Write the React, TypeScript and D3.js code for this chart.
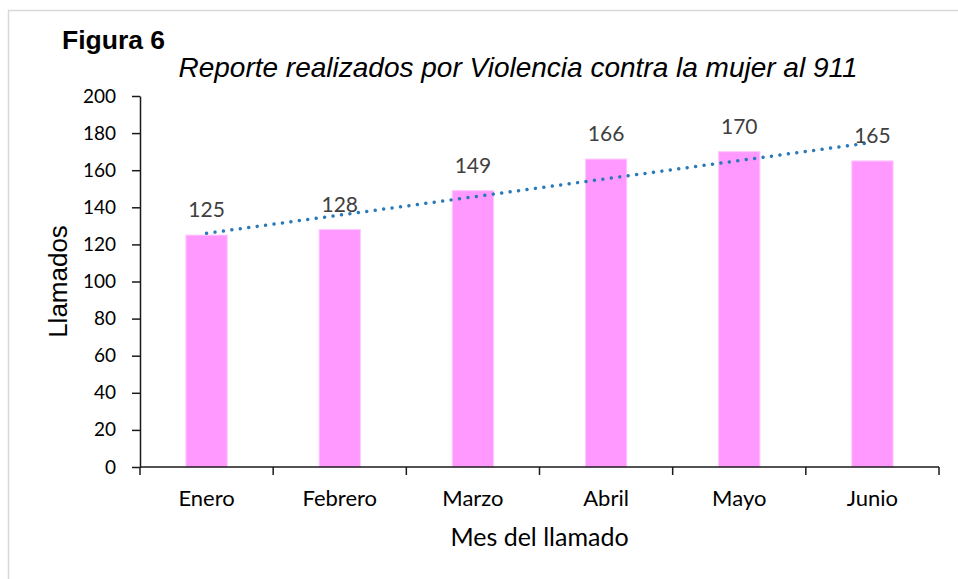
import React, { useEffect, useRef } from 'react';
import * as d3 from 'd3';

const months = ['Enero', 'Febrero', 'Marzo', 'Abril', 'Mayo', 'Junio'];
const calls = [125, 128, 149, 166, 170, 165];
const yTicks = [0, 20, 40, 60, 80, 100, 120, 140, 160, 180, 200];

const App = () => {
    const chart = useRef<SVGSVGElement>(null);

    useEffect(() => {
        const svg = d3.select(chart.current);
        svg.selectAll('*').remove();

        const left = 140;
        const right = 939;
        const bottom = 467;
        const top = 96;

        // frame around the whole figure
        svg.append('rect')
            .attr('x', 8.5)
            .attr('y', 10.5)
            .attr('width', 1000)
            .attr('height', 1000)
            .attr('fill', 'none')
            .attr('stroke', '#d9d9d9')
            .attr('stroke-width', 1.5);

        svg.append('text')
            .attr('x', 62)
            .attr('y', 49)
            .text('Figura 6')
            .style('font-family', '"Liberation Sans", Arial, sans-serif')
            .style('font-weight', 'bold')
            .style('font-size', '26.5px');

        svg.append('text')
            .attr('x', 518)
            .attr('y', 77)
            .attr('text-anchor', 'middle')
            .text('Reporte realizados por Violencia contra la mujer al 911')
            .style('font-family', '"Liberation Sans", Arial, sans-serif')
            .style('font-style', 'italic')
            .style('font-size', '28px');

        const x = d3.scaleBand().domain(months).range([left, right]);
        const y = d3.scaleLinear().domain([0, 200]).range([bottom, top]);

        // bars
        const barW = x.bandwidth() * 0.31;
        svg.append('g')
            .selectAll('rect')
            .data(calls)
            .join('rect')
            .attr('x', (d, i) => x(months[i])! + x.bandwidth() / 2 - barW / 2)
            .attr('y', d => y(d))
            .attr('width', barW)
            .attr('height', d => y(0) - y(d))
            .attr('fill', '#ff99ff')
            .attr('stroke', '#ffc8ff')
            .attr('stroke-width', 1);

        // y axis
        const yAxis = svg.append('g')
            .attr('transform', 'translate(' + left + ',0)')
            .call(d3.axisLeft(y).tickValues(yTicks).tickSize(8).tickPadding(16).tickSizeOuter(0));
        yAxis.select('.domain').attr('stroke', '#1a1a1a').attr('stroke-width', 1.5);
        yAxis.selectAll('.tick line').attr('stroke', '#1a1a1a').attr('stroke-width', 1.5);
        yAxis.selectAll('.tick text')
            .attr('fill', '#000')
            .style('font-family', 'Lato, sans-serif')
            .style('font-size', '19px');

        // x axis with ticks on category boundaries
        const xg = svg.append('g');
        xg.append('line')
            .attr('x1', left)
            .attr('x2', right)
            .attr('y1', bottom)
            .attr('y2', bottom)
            .attr('stroke', '#1a1a1a')
            .attr('stroke-width', 1.5);
        const edges = months.map(m => x(m)!).concat([right]);
        xg.selectAll('line.tk')
            .data(edges)
            .join('line')
            .attr('class', 'tk')
            .attr('x1', d => d)
            .attr('x2', d => d)
            .attr('y1', bottom)
            .attr('y2', bottom + 8)
            .attr('stroke', '#1a1a1a')
            .attr('stroke-width', 1.5);
        xg.selectAll('text')
            .data(months)
            .join('text')
            .attr('x', d => x(d)! + x.bandwidth() / 2)
            .attr('y', 506)
            .attr('text-anchor', 'middle')
            .text(d => d)
            .style('font-family', 'Lato, sans-serif')
            .style('font-size', '22px');

        // linear trendline
        const xs = calls.map((d, i) => i + 1);
        const mx = d3.mean(xs)!;
        const my = d3.mean(calls)!;
        const slope = d3.sum(xs, (v, i) => (v - mx) * (calls[i] - my)) / d3.sum(xs, v => (v - mx) * (v - mx));
        const icpt = my - slope * mx;
        const line = d3.line<number>()
            .x(v => x(months[v - 1])! + x.bandwidth() / 2)
            .y(v => y(icpt + slope * v));
        svg.append('path')
            .datum([1, 6])
            .attr('d', line)
            .attr('fill', 'none')
            .attr('stroke', '#2a7ab9')
            .attr('stroke-width', 3.5)
            .attr('stroke-linecap', 'round')
            .attr('stroke-dasharray', '0.01 8.5');

        // data labels
        svg.append('g')
            .selectAll('text')
            .data(calls)
            .join('text')
            .attr('x', (d, i) => x(months[i])! + x.bandwidth() / 2)
            .attr('y', d => y(d) - 18)
            .attr('text-anchor', 'middle')
            .attr('fill', '#404040')
            .text(d => d)
            .style('font-family', 'Lato, sans-serif')
            .style('font-size', '21px');

        svg.append('text')
            .attr('transform', 'translate(67,' + (top + bottom) / 2 + ') rotate(-90)')
            .attr('text-anchor', 'middle')
            .text('Llamados')
            .style('font-family', '"Liberation Sans", Arial, sans-serif')
            .style('font-size', '26px');

        svg.append('text')
            .attr('x', (left + right) / 2)
            .attr('y', 546)
            .attr('text-anchor', 'middle')
            .text('Mes del llamado')
            .style('font-family', 'Lato, sans-serif')
            .style('font-size', '25px');
    }, []);

    return (
        <svg
            ref={chart}
            width={958}
            height={579}
            style={{ position: 'absolute', left: 0, top: 0, background: '#fff' }}
        ></svg>
    );
};

export default App;
